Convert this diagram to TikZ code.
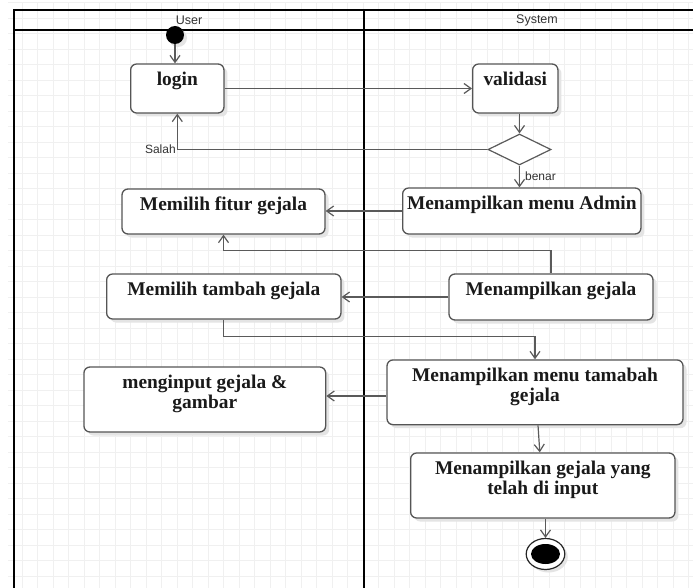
\documentclass[tikz,border=0pt]{standalone}
\usepackage{fontspec}
\setmainfont{Liberation Serif}
\newfontfamily\lanefont{Liberation Sans}
\usetikzlibrary{arrows.meta,shapes.geometric,shadows}

\definecolor{gridgray}{HTML}{F0F0F0}
\definecolor{linegray}{HTML}{5A5A5A}
\definecolor{boxedge}{HTML}{555555}
\definecolor{shadowgray}{HTML}{E4E4E4}
\definecolor{inkblack}{HTML}{1A1A1A}
\definecolor{labelgray}{HTML}{333333}

% activity text: fixed-size box, lines hung from the top
\newcommand{\acttext}[3]{\parbox[c][#2pt][t]{#1pt}{\centering\rule{0pt}{21.5pt}#3}}

\begin{document}
\begin{tikzpicture}[x=1pt, y=-1pt,
  gridline/.style={draw=gridgray, line width=0.9pt},
  lane/.style={draw=black, line width=1.8pt},
  lanetitle/.style={font=\lanefont\fontsize{12.5}{14}\selectfont, text=labelgray},
  actbox/.style={draw=boxedge, line width=1.3pt, fill=white, rounded corners=6pt,
    inner sep=0pt, text=inkblack,
    font=\fontsize{19.4}{20}\selectfont\bfseries,
    drop shadow={shadow xshift=3.5pt, shadow yshift=-3.5pt, fill=shadowgray, opacity=1}},
  decision/.style={diamond, draw=linegray, line width=1.2pt, fill=white, inner sep=0pt,
    minimum width=63pt, minimum height=31pt},
  initnode/.style={circle, fill=black, minimum size=18pt, inner sep=0pt,
    drop shadow={shadow xshift=3pt, shadow yshift=-3pt, fill=shadowgray, opacity=1}},
  finalnode/.style={ellipse, draw=black!85, line width=1.2pt, fill=white, inner sep=0pt,
    minimum width=38.6pt, minimum height=31pt,
    drop shadow={shadow xshift=3pt, shadow yshift=-3pt, fill=shadowgray, opacity=1}},
  conn/.style={draw=linegray, line width=1.2pt, -{Straight Barb[length=7pt,width=10pt]}},
  guard/.style={font=\lanefont\fontsize{12}{14}\selectfont, text=labelgray, inner sep=1pt}
]
% page
\fill[white] (0,0) rectangle (693,588);
\useasboundingbox (0,0) rectangle (693,588);

% background grid
\begin{scope}
  \clip (8,3) rectangle (693,588);
  \foreach \k in {0,...,43} \draw[gridline] ({22.3+15.5*\k},3) -- ({22.3+15.5*\k},588);
  \foreach \k in {0,...,37} \draw[gridline] (8,{2.5+15.5*\k}) -- (693,{2.5+15.5*\k});
\end{scope}

% swimlanes
\draw[lane] (14,588) -- (14,10) -- (693,10);
\draw[lane] (14,30) -- (693,30);
\draw[lane] (364,10) -- (364,588);
\node[lanetitle] (userlane) at (189,20) {User};
\node[lanetitle] (syslane) at (537,20) {System};

% activities
\node[initnode] (start) at (175,35) {};
\node[actbox] (login) at (177.3,88.5) {\acttext{93.3}{49}{login}};
\node[actbox] (validasi) at (515.3,88.5) {\acttext{85.3}{49}{validasi}};
\node[decision] (dec) at (519.5,149.5) {};
\node[actbox] (admin) at (521.8,211) {\acttext{238.3}{46}{Menampilkan menu Admin}};
\node[actbox] (fitur) at (223.5,211.5) {\acttext{203}{45}{Memilih fitur gejala}};
\node[actbox] (tambah) at (223.8,296.5) {\acttext{234.3}{45}{Memilih tambah gejala}};
\node[actbox] (gejala) at (551,297) {\acttext{204}{46}{Menampilkan gejala}};
\node[actbox] (menutambah) at (535,392.3) {\acttext{296}{64.7}{Menampilkan menu tamabah\\gejala}};
\node[actbox] (menginput) at (204.8,399.5) {\acttext{241.7}{65}{menginput gejala \&\\gambar}};
\node[actbox] (hasil) at (542.8,485.5) {\acttext{264.3}{65}{Menampilkan gejala yang\\telah di input}};
\node[finalnode] (final) at (545.5,554) {};
\fill[black] (final.center) ellipse [x radius=14.5pt, y radius=10pt];

% routing levels of the elbow connectors
\coordinate (loopA) at (0,250.7);
\coordinate (loopB) at (0,336.7);

% control flow
\draw[conn] (start) -- (start |- login.north);
\draw[conn] (login.east) -- (login.east -| validasi.west);
\draw[conn] (validasi.south -| dec.north) -- (dec.north);
\draw[conn] (dec.west) -| (login.south) node[pos=0.5, anchor=east, guard] {Salah};
\draw[conn] (dec.south) -- (dec.south |- admin.north) node[midway, anchor=west, xshift=4pt, guard] {benar};
\draw[conn] (admin.west) -- (admin.west -| fitur.east);
\draw[conn] (gejala.north) -- (gejala.north |- loopA) -| (fitur.south);
\draw[conn] (gejala.west) -- (gejala.west -| tambah.east);
\draw[conn] (tambah.south) -- (tambah.south |- loopB) -| (menutambah.north);
\draw[conn] ([yshift=-3.7pt]menutambah.west) -- ([yshift=-3.7pt]menutambah.west -| menginput.east);
\draw[conn] ([xshift=3pt]menutambah.south) -- ([xshift=-3pt]hasil.north);
\draw[conn] (hasil.south -| final) -- (final.north);
\end{tikzpicture}
\end{document}
